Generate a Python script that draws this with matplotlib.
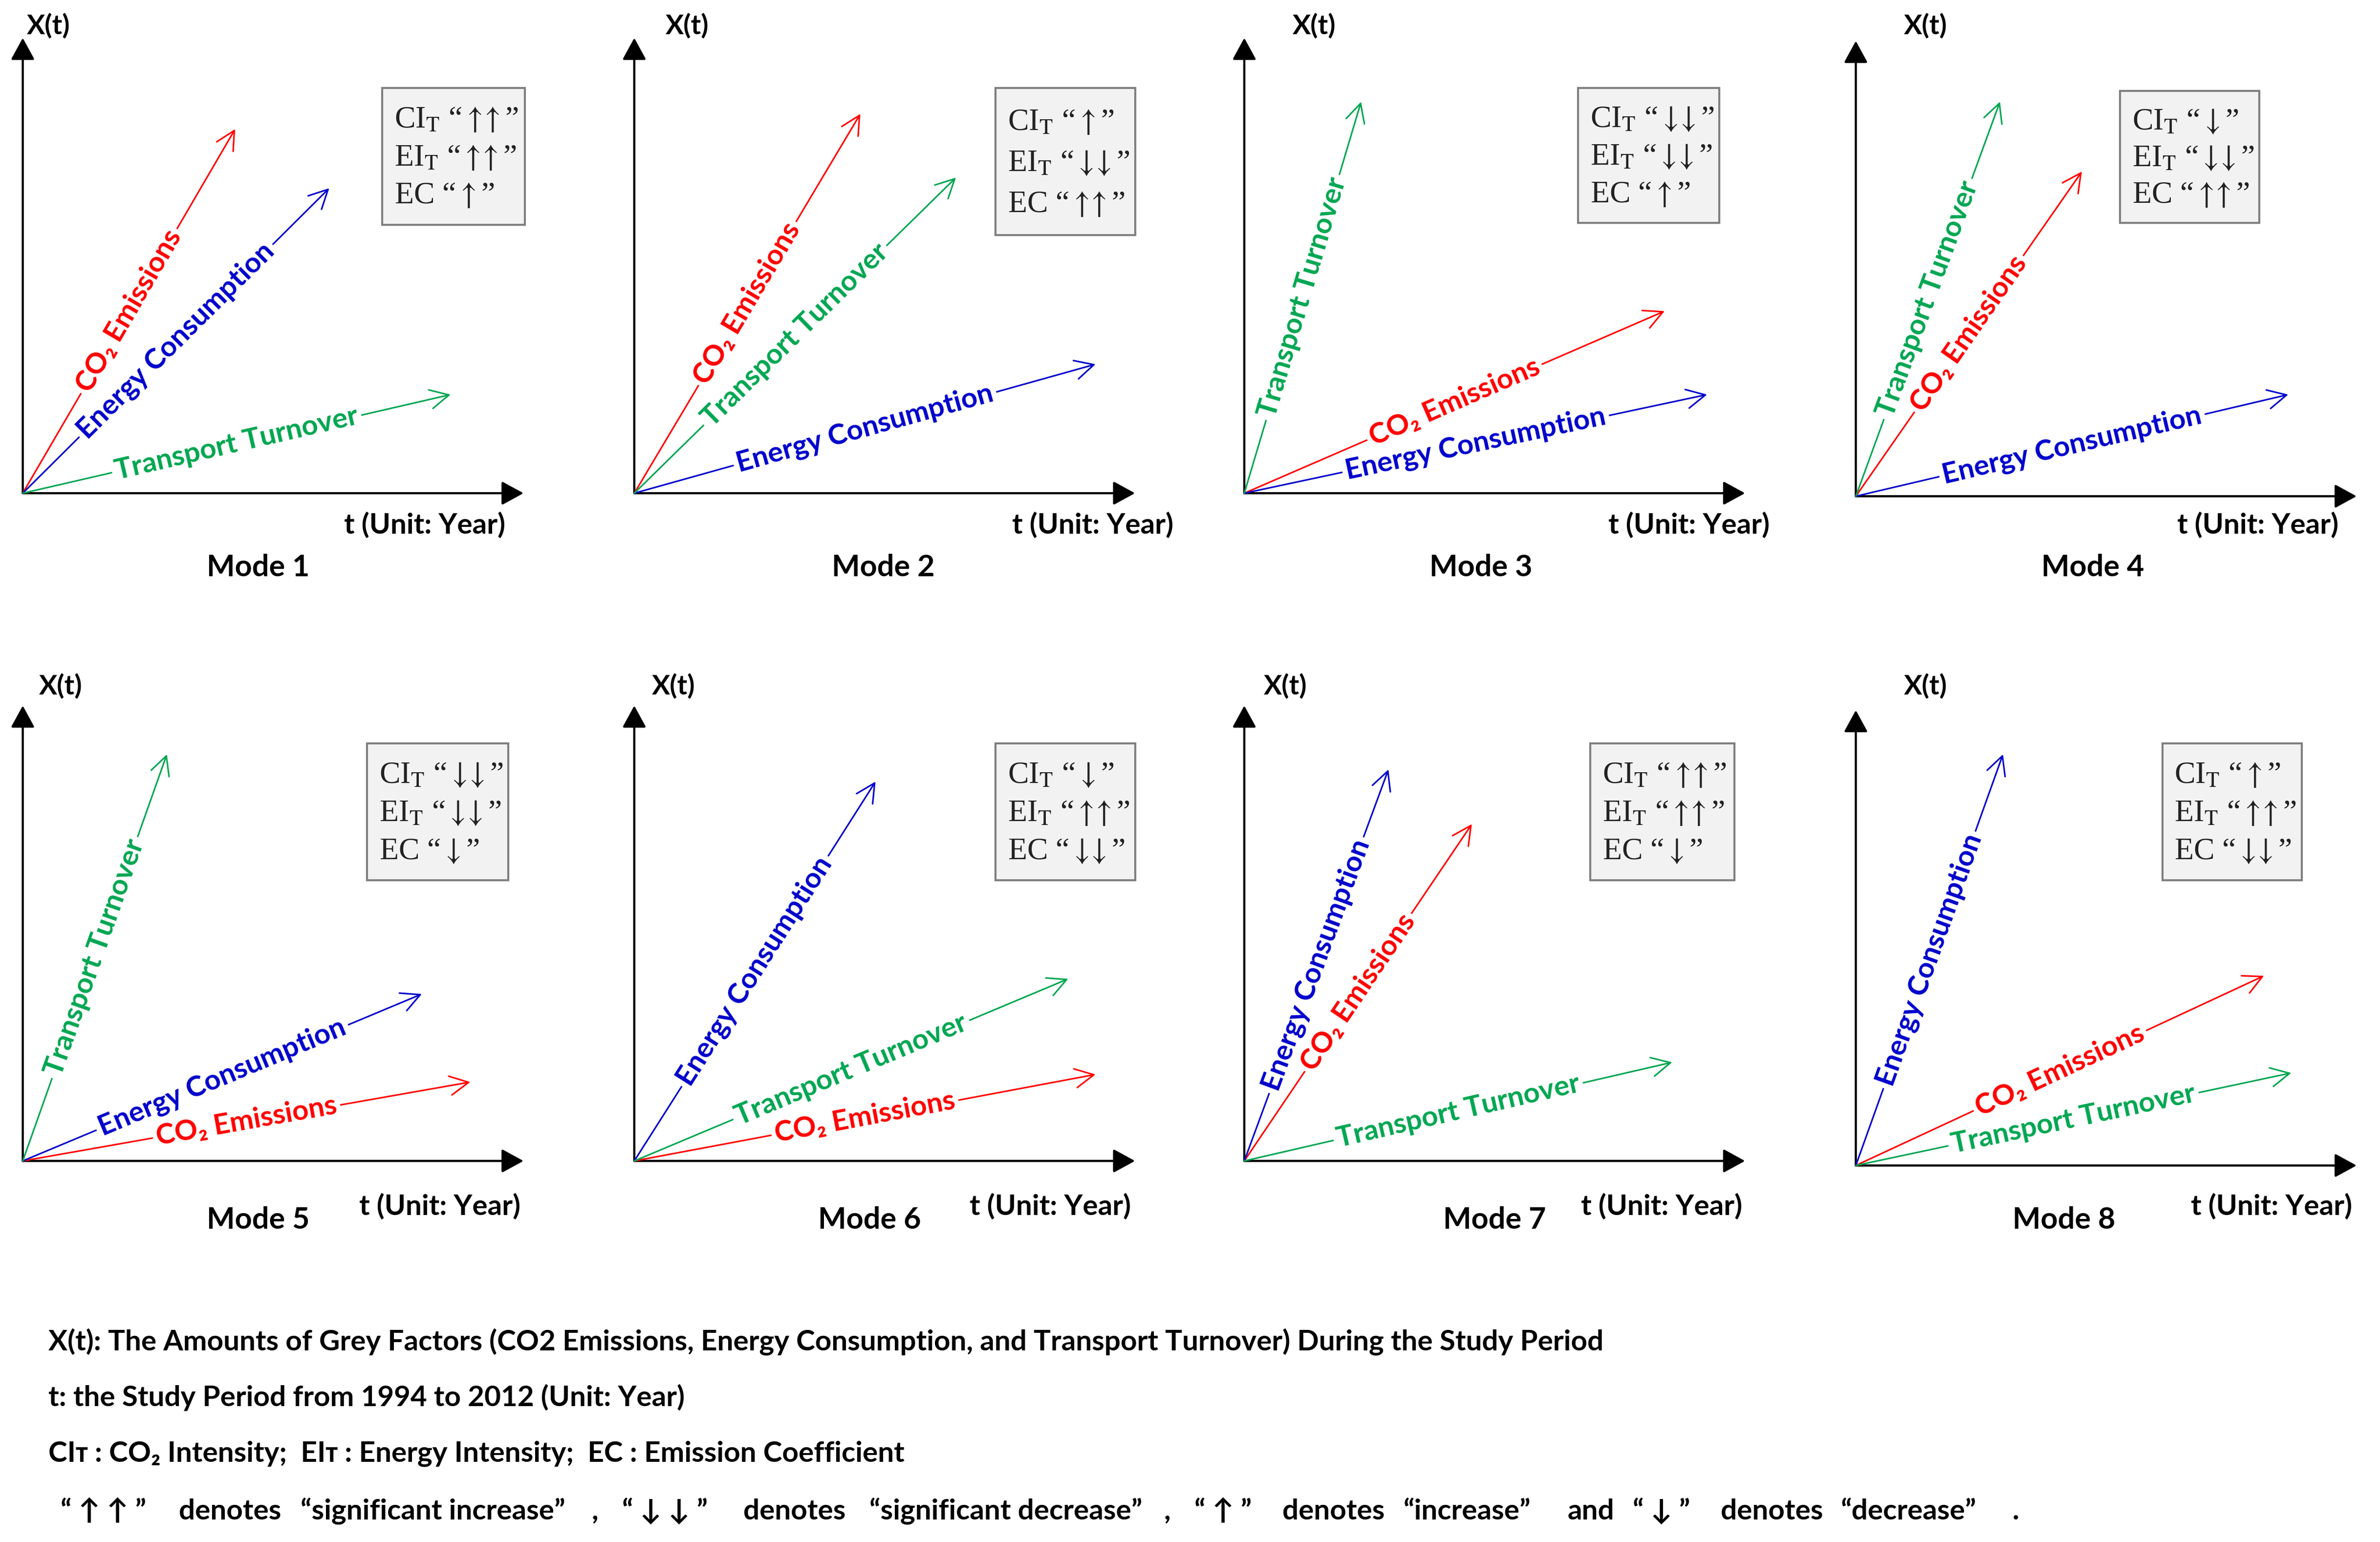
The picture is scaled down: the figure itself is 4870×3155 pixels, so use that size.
import math
import matplotlib
matplotlib.use("Agg")
import matplotlib.pyplot as plt
from matplotlib.patches import Rectangle

# ---------------- data ----------------
modes = ["Mode 1", "Mode 2", "Mode 3", "Mode 4", "Mode 5", "Mode 6", "Mode 7", "Mode 8"]
factor_names = ["CO\u2082 Emissions", "Energy Consumption", "Transport Turnover"]
# arrow end points (t, X(t)) for each mode
co2_end = [(140, 240), (149, 250), (277, 120), (149, 214), (295, 52), (304, 57), (150, 222), (269, 125)]
energy_end = [(202, 201), (304, 85), (305, 65), (285, 67), (263, 110), (159, 250), (95, 258), (97, 271)]
transport_end = [(282, 65), (212, 208), (77, 258), (95, 260), (95, 268), (286, 120), (282, 65), (287, 61)]
ci_t = ["\u2191\u2191", "\u2191", "\u2193\u2193", "\u2193", "\u2193\u2193", "\u2193", "\u2191\u2191", "\u2191"]
ei_t = ["\u2191\u2191", "\u2193\u2193", "\u2193\u2193", "\u2193\u2193", "\u2193\u2193", "\u2191\u2191", "\u2191\u2191", "\u2191\u2191"]
ec = ["\u2191", "\u2191\u2191", "\u2191", "\u2191\u2191", "\u2193", "\u2193\u2193", "\u2193", "\u2193\u2193"]
footnotes = [
    "X(t): The Amounts of Grey Factors (CO2 Emissions, Energy Consumption, and Transport Turnover) During the Study Period",
    "t: the Study Period from 1994 to 2012 (Unit: Year)",
    "CI\u1d1b : CO\u2082 Intensity;  EI\u1d1b : Energy Intensity;  EC : Emission Coefficient",
]
legend_parts = ["\u201c \u2191 \u2191 \u201d", "denotes", "\u201csignificant increase\u201d", ",",
                "\u201c \u2193 \u2193 \u201d", "denotes", "\u201csignificant decrease\u201d", ",",
                "\u201c \u2191 \u201d", "denotes", "\u201cincrease\u201d", "and",
                "\u201c \u2193 \u201d", "denotes", "\u201cdecrease\u201d", "."]

# ---------------- layout / style ----------------
W, H = 4870, 3155
S = 3.105
colors = {"co2": "#FF0000", "energy": "#0000CC", "transport": "#00A651"}
origins = [(15, 325), (418, 325), (820, 325), (1223, 327),
           (15, 765), (418, 765), (820, 765), (1223, 768)]
XLEN, YLEN = 330, 300
xt_pos = [(17, 308), (35, 308), (46, 308), (46, 310), (25, 313), (26, 313), (27, 313), (46, 316)]
tlab_pos = [(265, -21), (302, -21), (293, -21), (265, -19), (275, -30), (274, -30), (275, -30), (274, -27)]
mode_pos = [(155, -49), (164, -49), (156, -49), (156, -47), (155, -39), (155, -39), (165, -39), (137, -36)]
boxes = [(237, 331, 177, 267), (238, 330, 170, 267), (220, 313, 178, 267), (174, 266, 180, 267),
         (227, 320, 185, 275), (238, 330, 185, 275), (228, 323, 185, 275), (202, 294, 188, 278)]
foot_y = [884, 921, 958]
legend_y = 996
legend_x = [40, 118, 198, 390, 410, 490, 573, 767, 787, 845, 925, 1033, 1076, 1134, 1213, 1326]

SANS = ["Lato", "DejaVu Sans"]
SERIF = ["Liberation Serif", "DejaVu Serif"]
ARROW_TEX = {"\u2191": r"\uparrow", "\u2193": r"\downarrow"}


def arrows_math(s):
    return "$" + r"\!\!".join(ARROW_TEX[c] for c in s) + "$"


fig = plt.figure(figsize=(W / 100, H / 100), dpi=100)
fig.patch.set_facecolor("white")

for i in range(8):
    ox, oy = origins[i]
    ax = fig.add_axes([ox * S / W, 1 - oy * S / H, XLEN * S / W, YLEN * S / H])
    ax.set_xlim(0, XLEN)
    ax.set_ylim(0, YLEN)
    ax.axis("off")

    # axes arrows
    for end in [(XLEN, 0), (0, YLEN)]:
        ax.annotate("", xy=end, xytext=(0, 0), annotation_clip=False,
                    arrowprops=dict(arrowstyle="-|>,head_length=0.55,head_width=0.3",
                                    mutation_scale=50, lw=3.2, color="black",
                                    shrinkA=0, shrinkB=0))

    series = [(co2_end[i], colors["co2"], factor_names[0]),
              (energy_end[i], colors["energy"], factor_names[1]),
              (transport_end[i], colors["transport"], factor_names[2])]
    for (dx, dy), col, name in series:
        ax.annotate("", xy=(dx, dy), xytext=(0, 0), annotation_clip=False,
                    arrowprops=dict(arrowstyle="->,head_length=0.55,head_width=0.28",
                                    mutation_scale=50, lw=2.3, color=col,
                                    shrinkA=0, shrinkB=0))
    for (dx, dy), col, name in series:
        ang = math.degrees(math.atan2(dy, dx))
        ax.text(dx * 0.5, dy * 0.5, name, color=col, fontsize=42, fontweight="bold",
                family=SANS, rotation=ang, rotation_mode="anchor",
                ha="center", va="center", zorder=5,
                bbox=dict(boxstyle="square,pad=0.12", fc="white", ec="none"))

    # indicator box
    x0, x1, y0, y1 = boxes[i]
    ax.add_patch(Rectangle((x0, y0), x1 - x0, y1 - y0, fc="#F2F2F2", ec="#7F7F7F",
                           lw=3, clip_on=False, zorder=3))
    lines = [("CI", ci_t[i]), ("EI", ei_t[i]), ("EC", ec[i])]
    lh = (y1 - y0) / 3.6
    for k, (nm, arr) in enumerate(lines):
        sub = "$_{\\mathrm{T}}$" if nm != "EC" else ""
        ax.text(x0 + 8, y1 - lh * 0.85 - k * lh,
                nm + sub + " \u201c" + arrows_math(arr) + "\u201d",
                fontsize=46, family=SERIF, math_fontfamily="stix", color="#222222",
                ha="left", va="center", zorder=4)

    ax.text(*xt_pos[i], "X(t)", fontsize=40, fontweight="bold", family=SANS,
            ha="center", va="center")
    ax.text(*tlab_pos[i], "t (Unit: Year)", fontsize=42, fontweight="bold", family=SANS,
            ha="center", va="center")
    ax.text(*mode_pos[i], modes[i], fontsize=44, fontweight="bold", family=SANS,
            ha="center", va="center")

for txt, fy in zip(footnotes, foot_y):
    fig.text(32 * S / W, 1 - fy * S / H, txt, fontsize=42, fontweight="bold",
             family=SANS, ha="left", va="center")
for part, px in zip(legend_parts, legend_x):
    fig.text(px * S / W, 1 - legend_y * S / H, part, fontsize=42, fontweight="bold",
             family=SANS, ha="left", va="center")

fig.savefig("out.png", dpi=100, facecolor="white")
